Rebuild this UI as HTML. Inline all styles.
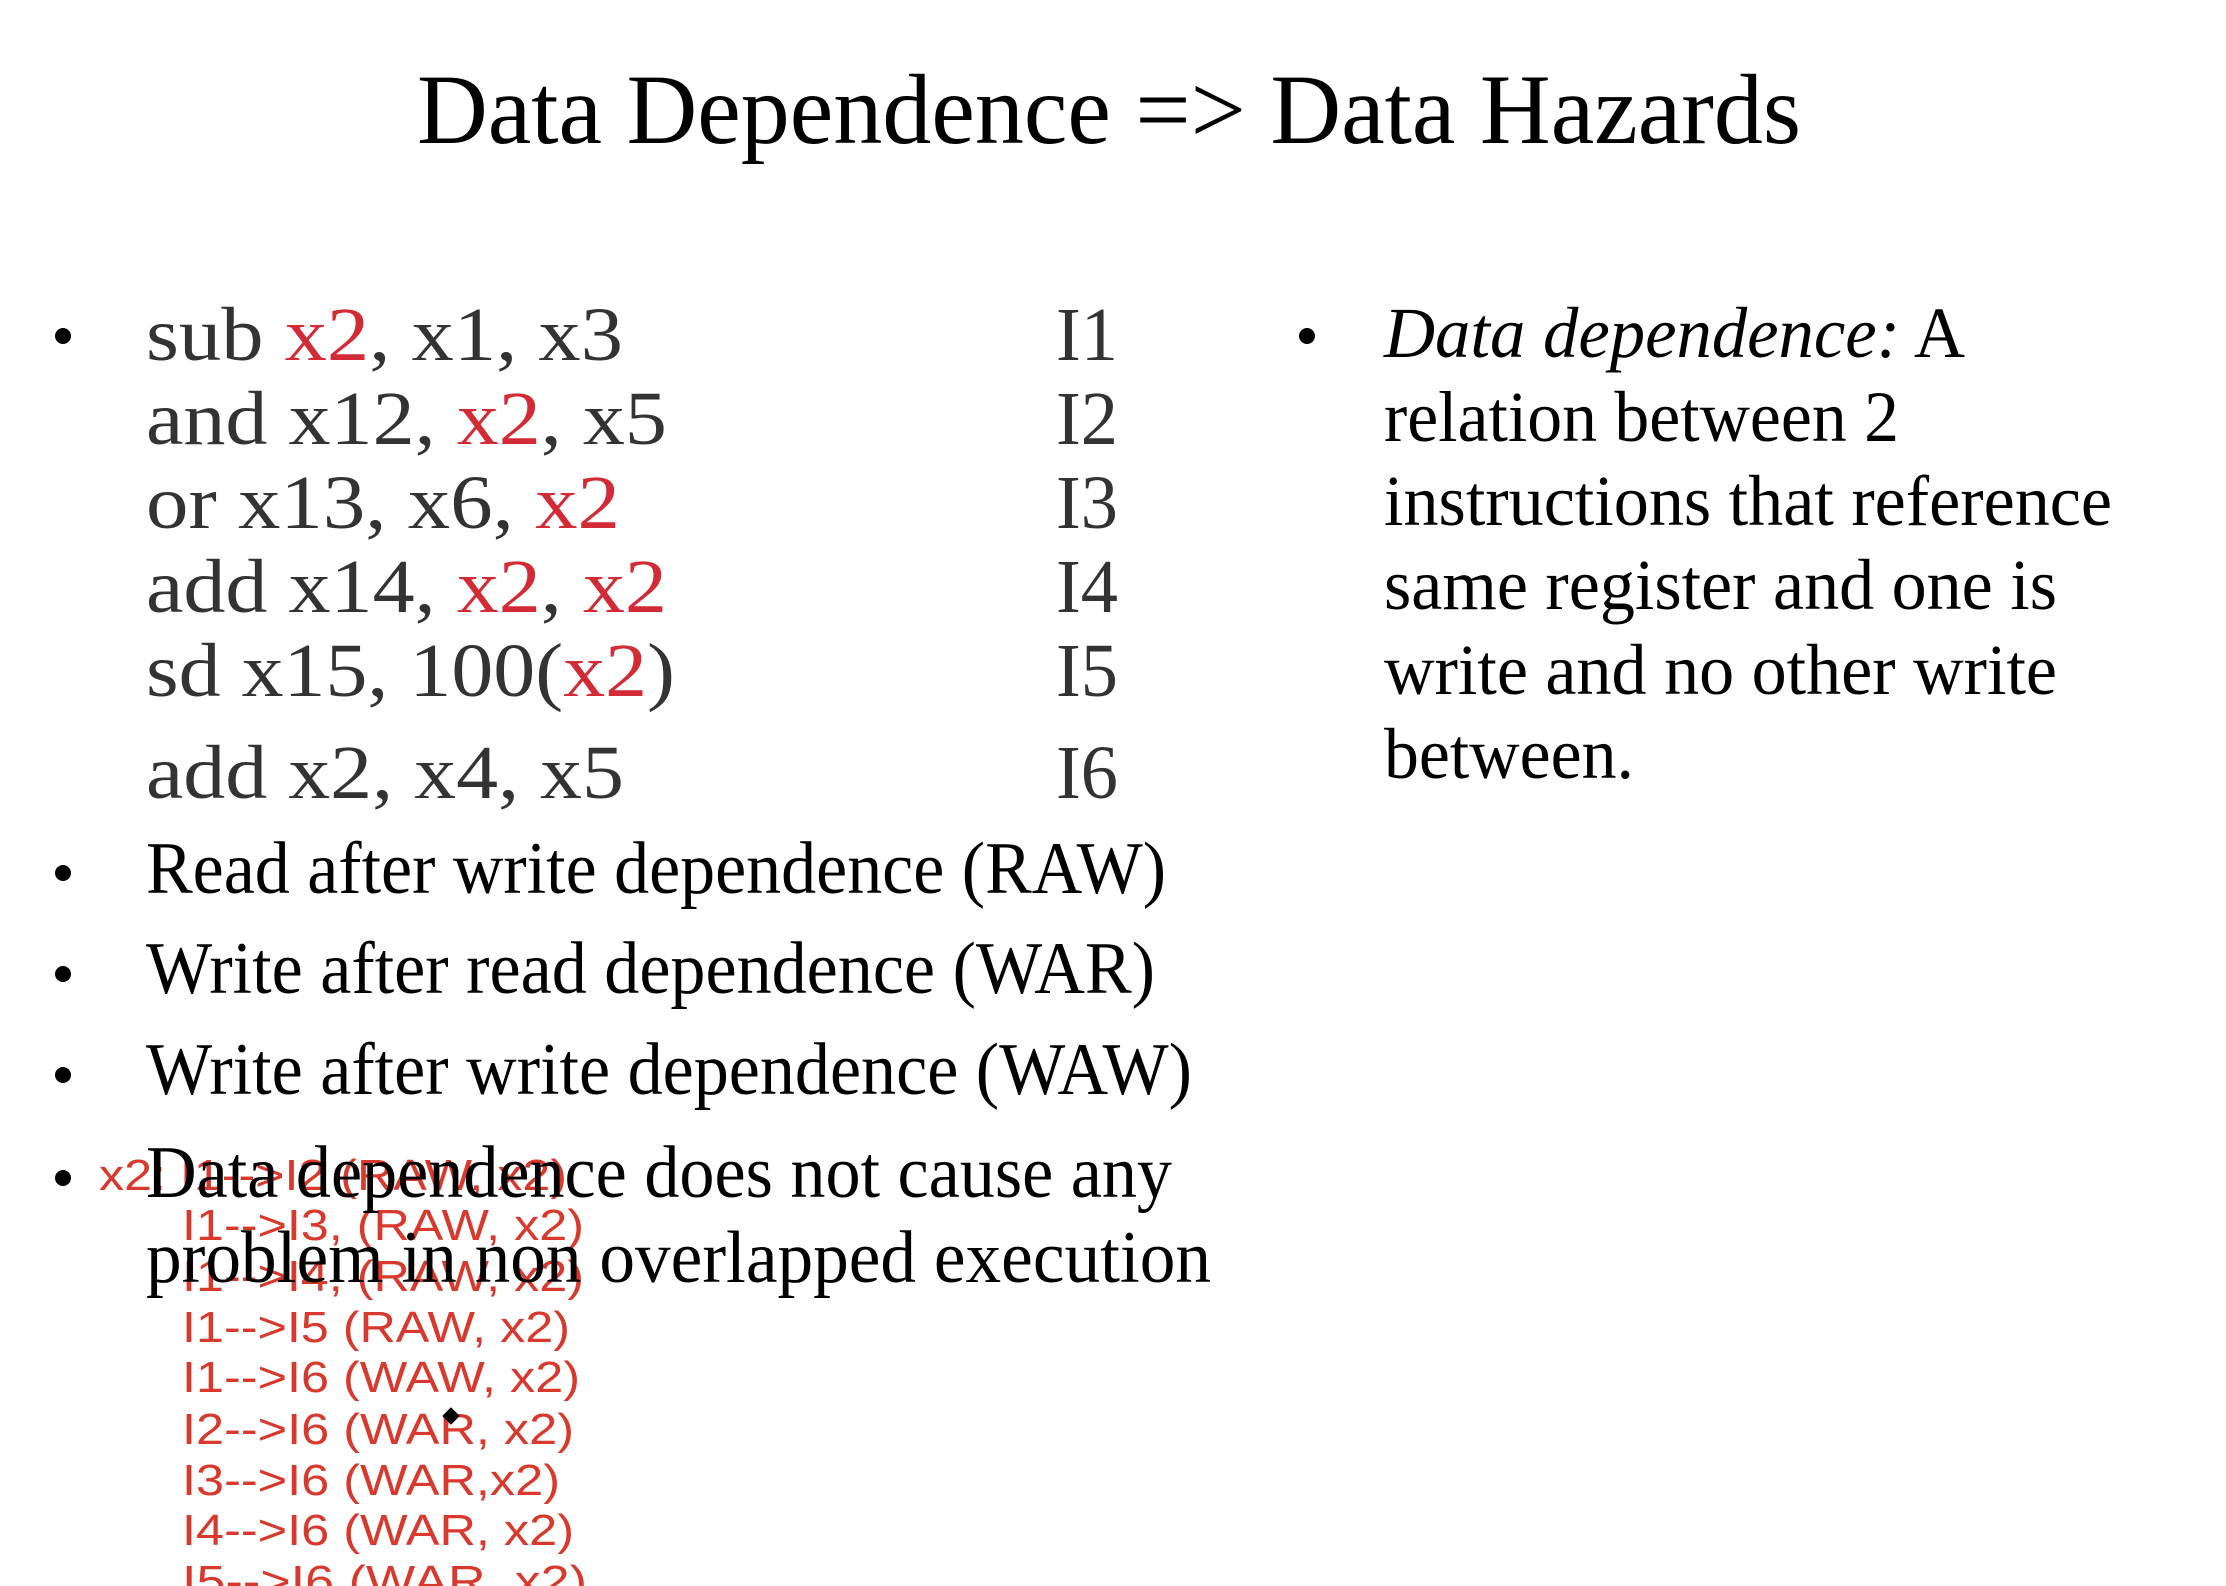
<!DOCTYPE html>
<html><head><meta charset="utf-8"><style>
html,body{margin:0;padding:0;background:#fff;}
svg{display:block;}
.t{font-family:"Liberation Serif",serif;fill:#000;}
.c{font-family:"Liberation Serif",serif;fill:#333;}
.r{fill:#d22b35;}
.red{font-family:"Liberation Sans",sans-serif;fill:#d9382c;font-size:44px;}
</style></head><body>
<svg width="2226" height="1586" viewBox="0 0 2226 1586">
<rect width="2226" height="1586" fill="#fff"/>
<text class="t" x="417" y="143" font-size="100" textLength="1384" lengthAdjust="spacingAndGlyphs">Data Dependence =&gt; Data Hazards</text>

<g>
<text class="red" x="99" y="1190" textLength="468" lengthAdjust="spacingAndGlyphs">x2: I1--&gt;I2 (RAW, x2)</text>
<text class="red" x="182" y="1240" textLength="402" lengthAdjust="spacingAndGlyphs">I1--&gt;I3, (RAW, x2)</text>
<text class="red" x="182" y="1291" textLength="402" lengthAdjust="spacingAndGlyphs">I1--&gt;I4, (RAW, x2)</text>
<text class="red" x="182" y="1342" textLength="388" lengthAdjust="spacingAndGlyphs">I1--&gt;I5 (RAW, x2)</text>
<text class="red" x="182" y="1392" textLength="398" lengthAdjust="spacingAndGlyphs">I1--&gt;I6 (WAW, x2)</text>
<text class="red" x="182" y="1444" textLength="392" lengthAdjust="spacingAndGlyphs">I2--&gt;I6 (WAR, x2)</text>
<text class="red" x="182" y="1495" textLength="378" lengthAdjust="spacingAndGlyphs">I3--&gt;I6 (WAR,x2)</text>
<text class="red" x="182" y="1545" textLength="392" lengthAdjust="spacingAndGlyphs">I4--&gt;I6 (WAR, x2)</text>
<text class="red" x="182" y="1596" textLength="405" lengthAdjust="spacingAndGlyphs">I5--&gt;I6  (WAR, x2)</text>
</g>

<g>
<circle cx="63" cy="336" r="8" fill="#000"/>
<text class="c" x="146" y="360" font-size="76" textLength="477" lengthAdjust="spacingAndGlyphs">sub <tspan class="r">x2</tspan>, x1, x3</text>
<text class="c" x="146" y="444" font-size="76" textLength="521" lengthAdjust="spacingAndGlyphs">and x12, <tspan class="r">x2</tspan>, x5</text>
<text class="c" x="146" y="528" font-size="76" textLength="474" lengthAdjust="spacingAndGlyphs">or x13, x6, <tspan class="r">x2</tspan></text>
<text class="c" x="146" y="612" font-size="76" textLength="521" lengthAdjust="spacingAndGlyphs">add x14, <tspan class="r">x2</tspan>, <tspan class="r">x2</tspan></text>
<text class="c" x="146" y="696" font-size="76" textLength="529" lengthAdjust="spacingAndGlyphs">sd x15, 100(<tspan class="r">x2</tspan>)</text>
<text class="c" x="146" y="798" font-size="76" textLength="478" lengthAdjust="spacingAndGlyphs">add x2, x4, x5</text>
<text class="c" x="1056" y="360" font-size="76" textLength="62" lengthAdjust="spacingAndGlyphs">I1</text>
<text class="c" x="1056" y="444" font-size="76" textLength="62" lengthAdjust="spacingAndGlyphs">I2</text>
<text class="c" x="1056" y="528" font-size="76" textLength="62" lengthAdjust="spacingAndGlyphs">I3</text>
<text class="c" x="1056" y="612" font-size="76" textLength="62" lengthAdjust="spacingAndGlyphs">I4</text>
<text class="c" x="1056" y="696" font-size="76" textLength="62" lengthAdjust="spacingAndGlyphs">I5</text>
<text class="c" x="1056" y="798" font-size="76" textLength="62" lengthAdjust="spacingAndGlyphs">I6</text>
</g>

<g>
<circle cx="1307" cy="336" r="8" fill="#000"/>
<text class="t" x="1384" y="357" font-size="72" textLength="581" lengthAdjust="spacingAndGlyphs"><tspan font-style="italic">Data dependence:</tspan> A</text>
<text class="t" x="1384" y="441" font-size="72" textLength="515" lengthAdjust="spacingAndGlyphs">relation between 2</text>
<text class="t" x="1384" y="525" font-size="72" textLength="728" lengthAdjust="spacingAndGlyphs">instructions that reference</text>
<text class="t" x="1384" y="609" font-size="72" textLength="673" lengthAdjust="spacingAndGlyphs">same register and one is</text>
<text class="t" x="1384" y="694" font-size="72" textLength="673" lengthAdjust="spacingAndGlyphs">write and no other write</text>
<text class="t" x="1384" y="778" font-size="72" textLength="250" lengthAdjust="spacingAndGlyphs">between.</text>
</g>

<g>
<circle cx="63" cy="873" r="8" fill="#000"/>
<text class="t" x="146" y="893" font-size="74" textLength="1020" lengthAdjust="spacingAndGlyphs">Read after write dependence (RAW)</text>
<circle cx="63" cy="974" r="8" fill="#000"/>
<text class="t" x="146" y="993" font-size="74" textLength="1009" lengthAdjust="spacingAndGlyphs">Write after read dependence (WAR)</text>
<circle cx="63" cy="1075" r="8" fill="#000"/>
<text class="t" x="146" y="1094" font-size="74" textLength="1046" lengthAdjust="spacingAndGlyphs">Write after write dependence (WAW)</text>
<circle cx="63" cy="1178" r="8" fill="#000"/>
<text class="t" x="146" y="1197" font-size="74" textLength="1026" lengthAdjust="spacingAndGlyphs">Data dependence does not cause any</text>
<text class="t" x="146" y="1282" font-size="74" textLength="1065" lengthAdjust="spacingAndGlyphs">problem in non overlapped  execution</text>
</g>
<path d="M443,1416 l8,-8 l8,8 l-8,8 z" fill="#000" stroke="#000" stroke-width="1"/>
</svg>
</body></html>
